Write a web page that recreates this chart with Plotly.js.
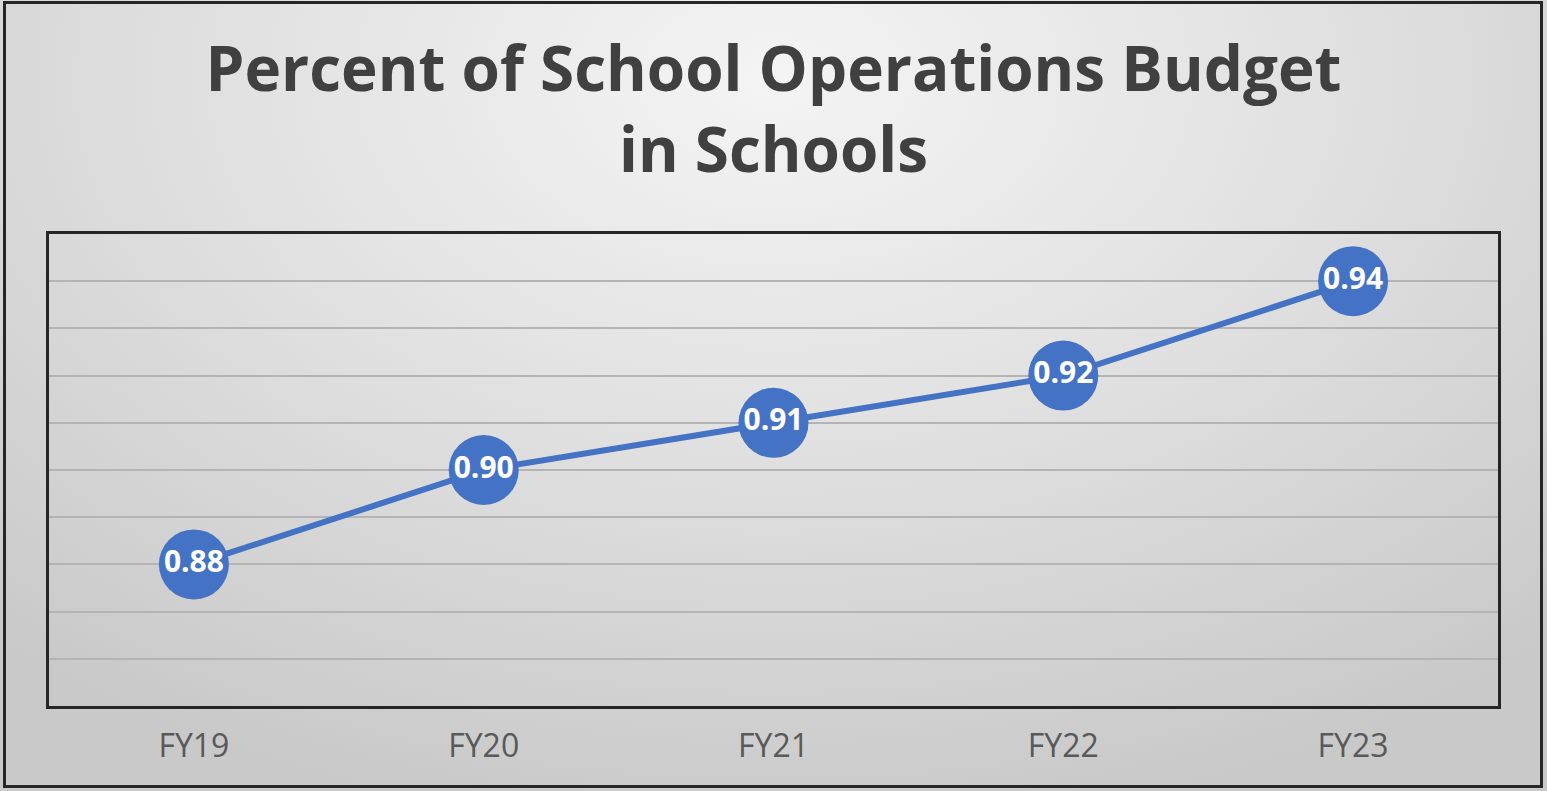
<!DOCTYPE html>
<html>
<head>
<meta charset="utf-8">
<script src="https://cdn.plot.ly/plotly-3.0.1.min.js"></script>
<style>
  html, body { margin: 0; padding: 0; background: #ffffff; }
  #wrap { position: relative; width: 1547px; height: 791px; overflow: hidden;
    background: radial-gradient(ellipse 75% 95% at 50% 10%, #f4f4f4 0%, #e2e2e2 45%, #c9c9c9 100%); }
  #chart { position: absolute; left: 0; top: 0; width: 1547px; height: 791px; }
  #frame { position: absolute; left: 3px; top: 1px; width: 1540px; height: 787px; box-sizing: border-box;
    border: 3px solid #262626; pointer-events: none; }
</style>
</head>
<body>
<div id="wrap">
  <div id="chart"></div>
  <div id="frame"></div>
</div>
<script>
const categories = ["FY19", "FY20", "FY21", "FY22", "FY23"];
const values = [0.88, 0.90, 0.91, 0.92, 0.94];
const chartTitle = "Percent of School Operations Budget<br>in Schools";

const trace = {
  type: "scatter",
  mode: "lines+markers+text",
  x: categories,
  y: values,
  text: values.map(v => v.toFixed(2)),
  textposition: "middle center",
  textfont: { family: "Open Sans, sans-serif", size: 30, color: "#ffffff", weight: 700 },
  line: { color: "#4472C4", width: 6 },
  marker: { color: "#4472C4", size: 70, line: { width: 0 } },
  hoverinfo: "skip",
  cliponaxis: false
};

const layout = {
  width: 1547, height: 791,
  margin: { l: 49, r: 49, t: 234, b: 85, pad: 0 },
  paper_bgcolor: "rgba(0,0,0,0)",
  plot_bgcolor: "rgba(0,0,0,0)",
  showlegend: false,
  title: {
    text: chartTitle,
    font: { family: "Open Sans, sans-serif", size: 62, color: "#404040", weight: 700 },
    x: 0.5, xanchor: "center",
    y: 0.885, yanchor: "top", yref: "container"
  },
  xaxis: {
    type: "category",
    range: [-0.5, 4.5],
    showgrid: false,
    showline: true, mirror: true, linecolor: "#262626", linewidth: 3,
    ticks: "",
    tickfont: { family: "Open Sans, sans-serif", size: 32, color: "#595959" },
    ticklabelstandoff: 10,
    zeroline: false
  },
  yaxis: {
    range: [0.85, 0.95],
    dtick: 0.01,
    tick0: 0.85,
    showgrid: true, gridcolor: "#b4b4b4", gridwidth: 2,
    showticklabels: false,
    showline: true, mirror: true, linecolor: "#262626", linewidth: 3,
    ticks: "",
    zeroline: false
  }
};

Plotly.newPlot("chart", [trace], layout, { displayModeBar: false, staticPlot: true });
</script>
</body>
</html>
